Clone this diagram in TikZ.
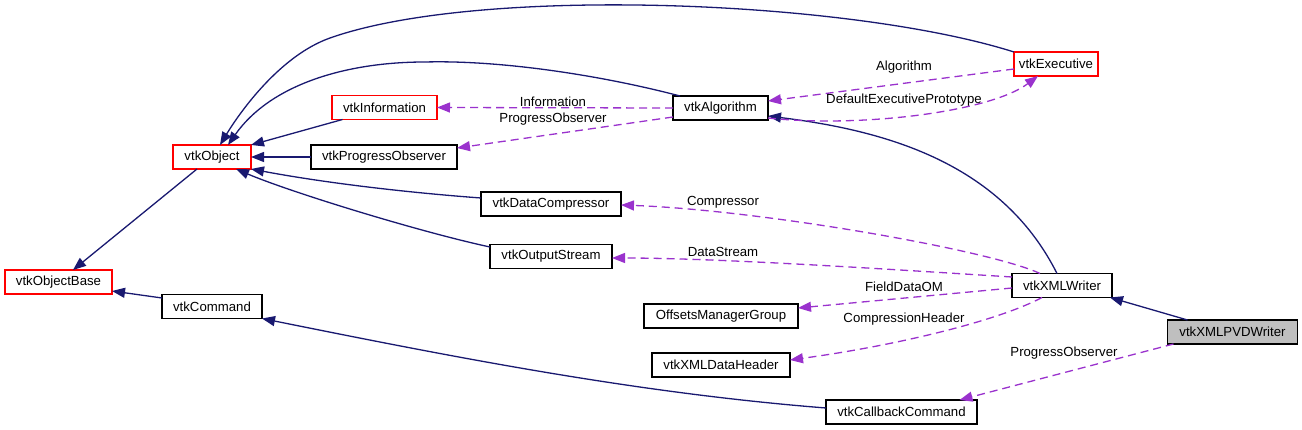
\documentclass[tikz,border=0pt]{standalone}
\usepackage{fontspec}
\setmainfont{Liberation Sans}
\usetikzlibrary{arrows.meta,calc}
\definecolor{inhcol}{HTML}{191970}
\definecolor{usecol}{HTML}{9A32CD}
\definecolor{redbox}{HTML}{FF0000}
\definecolor{graybox}{HTML}{BFBFBF}
\begin{document}
\begin{tikzpicture}[x=1pt,y=-1pt,
  cls/.style={draw=black,line width=1.3pt,inner sep=0pt,outer sep=0pt,minimum height=24pt,font=\fontsize{13.2}{15}\selectfont},
  redcls/.style={cls,draw=redbox},
  grcls/.style={cls,fill=graybox},
  inh/.style={draw=inhcol,line width=1.3pt,-{Triangle[length=13pt,width=10pt]}},
  use/.style={draw=usecol,line width=1.3pt,dash pattern=on 8pt off 5pt,-{Triangle[length=13pt,width=10pt,fill=usecol]}},
  lbl/.style={inner sep=0pt,font=\fontsize{13.2}{15}\selectfont}]
\useasboundingbox (0,0) rectangle (1302,430);
% nodes
\node[redcls,minimum width=78pt] (obj) at (212,157) {vtkObject};
\node[redcls,minimum width=107pt] (objbase) at (58.5,282) {vtkObjectBase};
\node[cls,minimum width=100pt] (cmd) at (212,306.5) {vtkCommand};
\node[redcls,minimum width=105pt] (info) at (384.5,107.5) {vtkInformation};
\node[cls,minimum width=146pt] (progobs) at (384,157) {vtkProgressObserver};
\node[cls,minimum width=140pt] (datacomp) at (551,204) {vtkDataCompressor};
\node[cls,minimum width=122pt] (outstream) at (551,256.5) {vtkOutputStream};
\node[cls,minimum width=95pt] (algo) at (720.5,108) {vtkAlgorithm};
\node[redcls,minimum width=84pt] (exec) at (1056,64) {vtkExecutive};
\node[cls,minimum width=100pt] (xmlw) at (1062,285.5) {vtkXMLWriter};
\node[cls,minimum width=154pt] (omg) at (721,316) {OffsetsManagerGroup};
\node[cls,minimum width=138pt] (xmldh) at (721,365) {vtkXMLDataHeader};
\node[cls,minimum width=151pt] (cbc) at (901.5,412) {vtkCallbackCommand};
\node[grcls,minimum width=130pt] (pvd) at (1232.5,332) {vtkXMLPVDWriter};
% inheritance
\draw[inh] ($(obj.south)+(-15,0)$) -- ($(objbase.north)+(14.5,0)$);
\draw[inh] ($(cmd.west)+(0,-8.5)$) -- ($(objbase.east)+(0,9)$);
\draw[inh] ($(cbc.west)+(0,-4)$) .. controls (636,393) and (453,357) .. (cmd.south east);
\draw[inh] ($(info.south)+(-42,0)$) -- (obj.north east);
\draw[inh] (progobs.west) -- (obj.east);
\draw[inh] ($(datacomp.west)+(0,-6)$) .. controls (400,192) and (320,182) .. (obj.south east);
\draw[inh] ($(outstream.west)+(0,-9.5)$) .. controls (420,232) and (290,192) .. ($(obj.south)+(24,0)$);
\coordinate (a1) at (425,62);
\draw[inh] ($(algo.north west)+(7,0)$) .. controls (600,75) and (500,60) .. (a1) .. controls (345,62) and (270,85) .. ($(obj.north)+(16,0)$);
\coordinate (e1) at (330,38);
\draw[inh] (exec.north west) .. controls (850,0) and (480,-15) .. (e1) .. controls (280,55.7) and (240,112) .. ($(obj.north)+(8,0)$);
\draw[inh] ($(xmlw.north)+(-5,0)$) .. controls (1000,160) and (880,130) .. ($(algo.south east)+(0,-4)$);
\draw[inh] ($(pvd.north west)+(20,0)$) -- ($(xmlw.south east)+(-2,0)$);
% usage
\draw[use] (algo.west) -- (info.east);
\draw[use] ($(algo.west)+(0,9)$) -- ($(progobs.north east)+(0,3)$);
\draw[use] ($(exec.west)+(0,5)$) -- ($(algo.east)+(0,-7)$);
\draw[use] ($(algo.south east)+(0,-2)$) .. controls (860,128) and (990,112) .. ($(exec.south)+(-18,0)$);
\draw[use] ($(xmlw.north)+(-22,0)$) .. controls (990,250) and (760,210) .. ($(datacomp.east)+(0,1)$);
\draw[use] ($(xmlw.west)+(0,-8.5)$) .. controls (900,270) and (720,258) .. ($(outstream.east)+(0,1.5)$);
\draw[use] ($(xmlw.west)+(0,2.5)$) -- ($(omg.east)+(0,-8)$);
\draw[use] ($(xmlw.south)+(-20,0)$) .. controls (1000,320) and (900,345) .. ($(xmldh.east)+(0,-5)$);
\draw[use] ($(pvd.south west)+(6,0)$) -- ($(cbc.north)+(58,0)$);
% labels
\node[lbl] (l1) at (553,102) {Information};
\node[lbl] (l2) at (553,119) {ProgressObserver};
\node[lbl] (l3) at (904,67) {Algorithm};
\node[lbl] (l4) at (904,100) {DefaultExecutivePrototype};
\node[lbl] (l5) at (723,202) {Compressor};
\node[lbl] (l6) at (723,252) {DataStream};
\node[lbl] (l7) at (904,287) {FieldDataOM};
\node[lbl] (l8) at (904,319) {CompressionHeader};
\node[lbl] (l9) at (1064,353) {ProgressObserver};
\end{tikzpicture}
\end{document}
